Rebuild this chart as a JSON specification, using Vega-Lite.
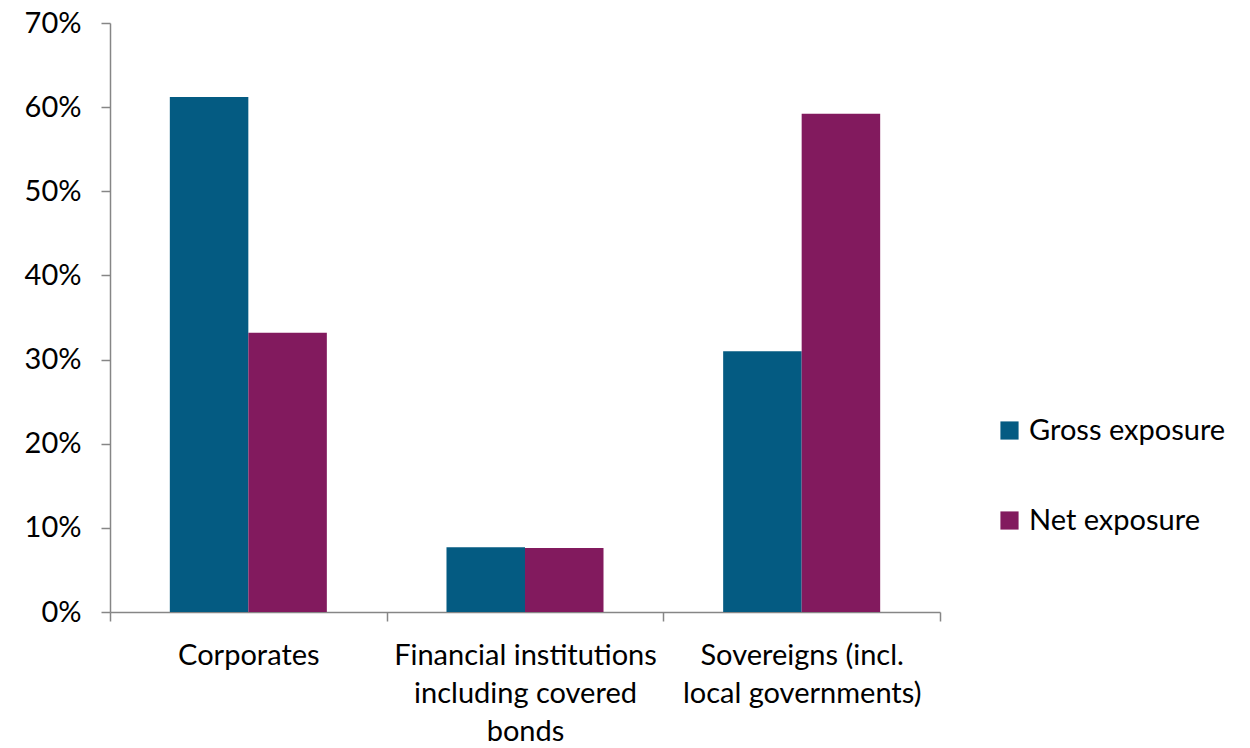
{
  "$schema": "https://vega.github.io/schema/vega-lite/v6.json",
  "width": 830,
  "height": 589,
  "autosize": {"type": "none"},
  "padding": {"left": 110, "top": 23, "right": 310, "bottom": 136},
  "background": "white",
  "config": {"view": {"stroke": null}, "font": "Lato"},
  "data": {
    "values": [
      {"category": "Corporates", "series": "Gross exposure", "value": 0.612},
      {"category": "Corporates", "series": "Net exposure", "value": 0.332},
      {"category": "Financial institutions including covered bonds", "series": "Gross exposure", "value": 0.077},
      {"category": "Financial institutions including covered bonds", "series": "Net exposure", "value": 0.076},
      {"category": "Sovereigns (incl. local governments)", "series": "Gross exposure", "value": 0.310},
      {"category": "Sovereigns (incl. local governments)", "series": "Net exposure", "value": 0.592}
    ]
  },
  "mark": {"type": "bar"},
  "encoding": {
    "x": {
      "field": "category",
      "type": "nominal",
      "sort": null,
      "scale": {"paddingInner": 0, "paddingOuter": 0},
      "axis": {
        "title": null,
        "labelAngle": 0,
        "labelFontSize": 29,
        "labelColor": "black",
        "labelPadding": 20,
        "labelLineHeight": 38,
        "labelBaseline": "top",
        "labelExpr": "datum.value == 'Financial institutions including covered bonds' ? ['Financial institutions', 'including covered', 'bonds'] : datum.value == 'Sovereigns (incl. local governments)' ? ['Sovereigns (incl.', 'local governments)'] : datum.value",
        "tickBand": "extent",
        "tickSize": 9,
        "tickColor": "#868686",
        "domainColor": "#868686",
        "domainWidth": 1.5,
        "tickWidth": 1.5,
        "labelLimit": 400
      }
    },
    "xOffset": {"field": "series", "type": "nominal", "scale": {"paddingInner": 0, "paddingOuter": 0.762}},
    "y": {
      "field": "value",
      "type": "quantitative",
      "scale": {"domain": [0, 0.7]},
      "axis": {
        "title": null,
        "format": ".0%",
        "values": [0, 0.1, 0.2, 0.3, 0.4, 0.5, 0.6, 0.7],
        "grid": false,
        "labelFontSize": 29,
        "labelColor": "black",
        "labelPadding": 20,
        "tickSize": 9,
        "tickColor": "#868686",
        "domainColor": "#868686",
        "domainWidth": 1.5,
        "tickWidth": 1.5
      }
    },
    "color": {
      "field": "series",
      "type": "nominal",
      "scale": {"domain": ["Gross exposure", "Net exposure"], "range": ["#045B82", "#821A5E"]},
      "legend": {
        "title": null,
        "orient": "none",
        "legendX": 885,
        "legendY": 393,
        "symbolType": "square",
        "symbolSize": 330,
        "symbolStrokeWidth": 0,
        "labelFontSize": 29,
        "labelColor": "black",
        "labelOffset": 5,
        "labelLimit": 400,
        "rowPadding": 60
      }
    }
  }
}
